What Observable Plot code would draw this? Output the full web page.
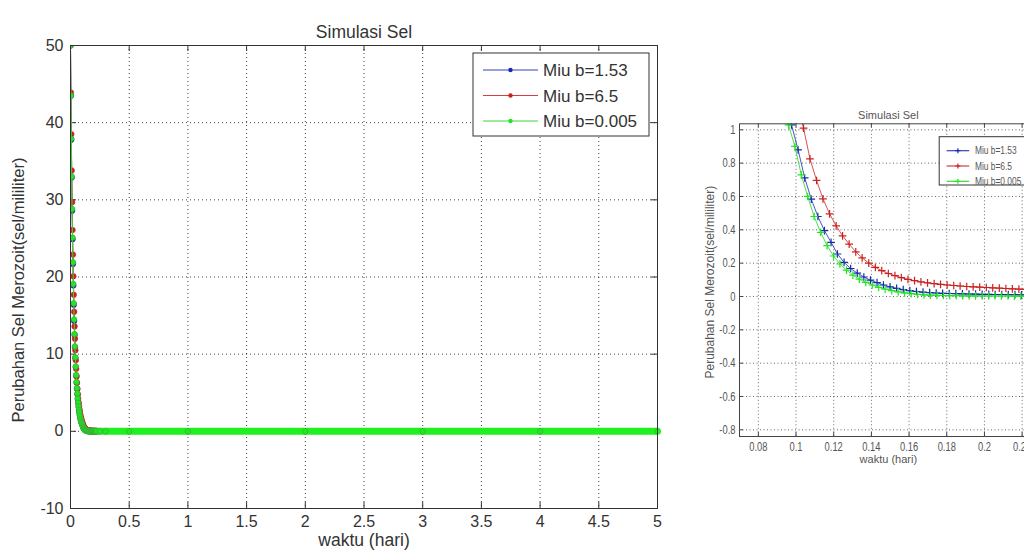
<!DOCTYPE html>
<html><head><meta charset="utf-8">
<script src="https://cdn.jsdelivr.net/npm/d3@7"></script>
<script src="https://cdn.jsdelivr.net/npm/@observablehq/plot@0.6"></script>
<style>
html,body{margin:0;padding:0;background:#fff;overflow:hidden;width:1024px;height:557px;}
#left{position:absolute;left:0;top:0;width:680px;height:557px;}
#right{position:absolute;left:680px;top:0;width:370px;height:557px;}
svg{max-width:none !important;}
</style></head><body>
<div id="left"></div><div id="right"></div>
<script>
// ---- data ----
const seriesNames = ["Miu b=1.53", "Miu b=6.5", "Miu b=0.005"];
const lineColors = ["#3344bb", "#d04040", "#3ad83a"];
const markColors = ["#1a2ab0", "#cc2020", "#22e622"];

// [time (hari), value]
const blue = [[0,50],[0.0035,43.5],[0.0070,37.8],[0.0105,32.9],[0.0139,28.6],[0.0174,24.9],[0.0209,21.7],[0.0244,18.9],[0.0279,16.4],[0.0314,14.3],
[0.0349,12.5],[0.0384,10.9],[0.0418,9.5],[0.0453,8.3],[0.0488,7.2],[0.0523,6.3],[0.0558,5.5],[0.0593,4.8],[0.0628,4.2],[0.0663,3.65],
[0.0697,3.18],[0.0732,2.77],[0.0767,2.41],[0.0802,2.10],[0.0837,1.82],[0.0872,1.57],[0.0907,1.35],[0.0941,1.17],[0.0976,1.03],[0.1011,0.880],
[0.1046,0.712],[0.1081,0.584],[0.1116,0.480],[0.1151,0.395],[0.1186,0.325],[0.1220,0.255],[0.1255,0.205],[0.1290,0.168],[0.1325,0.140],[0.1360,0.117],
[0.1395,0.098],[0.1430,0.083],[0.1464,0.069],[0.1499,0.058],[0.1534,0.049],[0.1569,0.041],[0.1604,0.035],[0.1639,0.030],[0.1674,0.026],[0.1709,0.023],
[0.1744,0.021],[0.1778,0.019],[0.1813,0.018],[0.1848,0.017],[0.1883,0.016],[0.1918,0.015],[0.1953,0.014],[0.1988,0.013],[0.2023,0.013],[0.2057,0.012],
[0.2092,0.012],[0.2127,0.011],[0.2162,0.011],[0.2197,0.010],[0.2232,0.010],
[0.25,0.006],[0.3,0.004],[0.5,0.002],[1,0.001],[2,0],[3,0],[4,0],[5,0]];

const red = [[0,50],[0.0035,43.9],[0.0069,38.5],[0.0104,33.8],[0.0139,29.7],[0.0173,26.1],[0.0208,22.9],[0.0243,20.1],[0.0277,17.7],[0.0312,15.5],
[0.0347,13.6],[0.0381,12.0],[0.0416,10.5],[0.0450,9.2],[0.0485,8.1],[0.0520,7.1],[0.0554,6.3],[0.0589,5.5],[0.0624,4.8],[0.0658,4.25],
[0.0693,3.73],[0.0728,3.27],[0.0762,2.87],[0.0797,2.52],[0.0832,2.21],[0.0866,1.94],[0.0901,1.71],[0.0936,1.50],[0.0970,1.32],[0.1005,1.16],
[0.1040,1.01],[0.1074,0.826],[0.1109,0.696],[0.1143,0.586],[0.1178,0.496],[0.1213,0.424],[0.1247,0.364],[0.1282,0.314],[0.1317,0.268],[0.1351,0.232],
[0.1386,0.200],[0.1421,0.175],[0.1455,0.155],[0.1490,0.138],[0.1525,0.125],[0.1559,0.113],[0.1594,0.103],[0.1629,0.095],[0.1663,0.088],[0.1698,0.082],
[0.1733,0.077],[0.1767,0.073],[0.1802,0.069],[0.1837,0.066],[0.1871,0.063],[0.1906,0.060],[0.1940,0.058],[0.1975,0.056],[0.2010,0.054],[0.2044,0.052],
[0.2079,0.050],[0.2114,0.048],[0.2148,0.046],[0.2183,0.044],[0.2218,0.043],[0.2252,0.042],
[0.25,0.036],[0.3,0.027],[0.5,0.012],[1,0.004],[2,0.001],[3,0],[4,0],[5,0]];

const green = [[0,50],[0.0034,43.5],[0.0069,37.9],[0.0103,33.0],[0.0137,28.8],[0.0171,25.1],[0.0206,21.9],[0.0240,19.1],[0.0274,16.6],[0.0308,14.5],
[0.0343,12.6],[0.0377,11.0],[0.0411,9.6],[0.0446,8.4],[0.0480,7.3],[0.0514,6.4],[0.0548,5.6],[0.0583,4.9],[0.0617,4.25],[0.0651,3.7],
[0.0685,3.22],[0.0720,2.80],[0.0754,2.44],[0.0788,2.12],[0.0822,1.84],[0.0857,1.58],[0.0891,1.36],[0.0925,1.17],[0.0960,1.03],[0.0994,0.900],
[0.1028,0.730],[0.1062,0.600],[0.1096,0.480],[0.1131,0.385],[0.1165,0.305],[0.1199,0.243],[0.1233,0.195],[0.1268,0.158],[0.1302,0.128],[0.1336,0.104],
[0.1370,0.085],[0.1405,0.069],[0.1439,0.055],[0.1473,0.044],[0.1508,0.035],[0.1542,0.028],[0.1576,0.022],[0.1611,0.017],[0.1645,0.013],[0.1679,0.010],
[0.1713,0.008],[0.1748,0.007],[0.1782,0.006],[0.1816,0.005],[0.1850,0.005],[0.1885,0.004],[0.1919,0.004],[0.1953,0.004],[0.1988,0.003],[0.2022,0.003],
[0.2056,0.003],[0.2090,0.003],[0.2125,0.003],[0.2159,0.002],[0.2193,0.002],[0.2227,0.002],
[0.25,0.002],[0.3,0.001],[0.5,0.001],[1,0],[2,0],[3,0],[4,0],[5,0]];

const leftXTicks = [0,0.5,1,1.5,2,2.5,3,3.5,4,4.5,5];
const leftYTicks = [-10,0,10,20,30,40,50];
const rightXTicks = [0.08,0.1,0.12,0.14,0.16,0.18,0.2,0.22];
const rightYTicks = [-0.8,-0.6,-0.4,-0.2,0,0.2,0.4,0.6,0.8,1];
const titleText = "Simulasi Sel";
const xLabelText = "waktu (hari)";
const yLabelText = "Perubahan Sel Merozoit(sel/mililiter)";

const series = [blue, red, green].map((s, i) => s.map(([t, v]) => ({t, v, s: i})));

function chart(cfg) {
  const pw = cfg.width - cfg.ml - cfg.mr, ph = cfg.height - cfg.mt - cfg.mb;
  const grid = {stroke: "#000", strokeOpacity: cfg.gridOpacity, strokeDasharray: cfg.dash};
  const marks = [
    Plot.gridX(cfg.xTicks, grid),
    Plot.gridY(cfg.yTicks, grid),
    Plot.ruleX(cfg.xTicks, {x: d => d, insetTop: ph - cfg.tick, stroke: cfg.axisColor}),
    Plot.ruleX(cfg.xTicks, {x: d => d, insetBottom: ph - cfg.tick, stroke: cfg.axisColor}),
    Plot.ruleY(cfg.yTicks, {y: d => d, insetRight: pw - cfg.tick, stroke: cfg.axisColor}),
    Plot.ruleY(cfg.yTicks, {y: d => d, insetLeft: pw - cfg.tick, stroke: cfg.axisColor}),
    Plot.axisX({ticks: cfg.xTicks, tickSize: 0, tickPadding: cfg.xPad, tickFormat: d => String(d), fontSize: cfg.tickFont, fill: cfg.textColor, label: null}),
    Plot.axisY({ticks: cfg.yTicks, tickSize: 0, tickPadding: cfg.yPad, tickFormat: d => String(d), fontSize: cfg.tickFont, fill: cfg.textColor, label: null})
  ];
  series.forEach((d, i) => {
    marks.push(Plot.line(d, {x: "t", y: "v", stroke: lineColors[i], strokeWidth: cfg.lineW, clip: true}));
    if (cfg.band && i === 2) {
      marks.push(Plot.line(d.filter(p => p.t >= 0.115), {x: "t", y: "v", stroke: "#1ff01f", strokeWidth: cfg.band, strokeLinecap: "round", clip: false}));
    }
    if (cfg.symbol === "circle") {
      marks.push(Plot.dot(d, {x: "t", y: "v", r: cfg.r, fill: markColors[i], stroke: i === 2 ? "#3aa83a" : markColors[i], strokeWidth: 0.6, clip: true}));
    } else {
      marks.push(Plot.dot(d, {x: "t", y: "v", r: cfg.r, symbol: cfg.symbol, stroke: markColors[i], strokeWidth: 1.2, clip: true}));
    }
  });
  marks.push(
    Plot.frame({stroke: cfg.axisColor, strokeWidth: 1}),
    Plot.text([titleText], {text: d => d, frameAnchor: "top", dy: cfg.titleDy, fontSize: cfg.titleFont, fill: cfg.textColor, ariaLabel: "title"}),
    Plot.text([xLabelText], {text: d => d, frameAnchor: "bottom", dy: cfg.xLabDy, fontSize: cfg.labFont, fill: cfg.textColor, ariaLabel: "xlabel"}),
    Plot.text([yLabelText], {text: d => d, frameAnchor: "left", textAnchor: "middle", dx: cfg.yLabDx, dy: cfg.yLabDy, rotate: -90, fontSize: cfg.yLabFont, fill: cfg.textColor, ariaLabel: "ylabel"})
  );
  const svg = Plot.plot({
    width: cfg.width, height: cfg.height,
    marginLeft: cfg.ml, marginRight: cfg.mr, marginTop: cfg.mt, marginBottom: cfg.mb,
    x: {domain: cfg.xDomain}, y: {domain: cfg.yDomain},
    style: {fontFamily: "'Liberation Sans', Arial, sans-serif", background: "transparent", color: cfg.textColor, overflow: "visible", maxWidth: "none"},
    marks
  });
  // legend (MATLAB-style box in the north-east corner)
  const g = d3.select(svg).append("g").attr("text-anchor", "start").attr("aria-label", "legend");
  const L = cfg.legend;
  const bx = cfg.width - cfg.mr - L.inset - L.w, by = cfg.mt + L.insetTop;
  g.append("rect").attr("x", bx).attr("y", by).attr("width", L.w).attr("height", L.h)
    .attr("fill", "#fff").attr("stroke", "#333").attr("stroke-width", 1);
  seriesNames.forEach((name, i) => {
    const yy = by + L.first + i * L.step;
    g.append("line").attr("x1", bx + L.l1).attr("x2", bx + L.l2).attr("y1", yy).attr("y2", yy)
      .attr("stroke", lineColors[i]).attr("stroke-width", 1.2);
    const mx = bx + (L.l1 + L.l2) / 2;
    if (cfg.symbol === "circle") {
      g.append("circle").attr("cx", mx).attr("cy", yy).attr("r", 2.2).attr("fill", markColors[i]);
    } else {
      g.append("path").attr("d", `M${mx-2.5},${yy}h5M${mx},${yy-2.5}v5`).attr("stroke", markColors[i]).attr("stroke-width", 1.2);
    }
    g.append("text").attr("x", bx + L.tx).attr("y", yy).attr("dy", "0.36em").attr("text-anchor", "start")
      .attr("font-size", L.font).attr("fill", cfg.textColor).text(name);
  });
  return svg;
}

// horizontally condense texts (the reference image is squeezed sideways)
function squeeze(svg, label, factor) {
  d3.select(svg).selectAll(`g[aria-label="${label}"] text`).each(function() {
    const n = this.getComputedTextLength();
    this.setAttribute("textLength", n * factor);
    this.setAttribute("lengthAdjust", "spacingAndGlyphs");
  });
}
function setLength(svg, label, len) {
  d3.select(svg).selectAll(`g[aria-label="${label}"] text`)
    .attr("textLength", len).attr("lengthAdjust", "spacingAndGlyphs");
}

const leftSvg = chart({
  width: 680, height: 557, ml: 70, mr: 23, mt: 45, mb: 49,
  xDomain: [0, 5], yDomain: [-10, 50], xTicks: leftXTicks, yTicks: leftYTicks,
  tickFont: 16, titleFont: 17.5, labFont: 17.5, yLabFont: 16.5, textColor: "#333", axisColor: "#333",
  xPad: 7, yPad: 7, tick: 6, titleDy: -20, xLabDy: 37, yLabDx: -52, yLabDy: 13,
  gridOpacity: 0.75, dash: "1,3", lineW: 1, r: 2.8, symbol: "circle", band: 7,
  legend: {w: 176, h: 83, inset: 8, insetTop: 8, first: 17, step: 25.5, l1: 10, l2: 65, tx: 70, font: 17}
});
document.getElementById("left").appendChild(leftSvg);
setLength(leftSvg, "ylabel", 284);

const rightSvg = chart({
  width: 370, height: 557, ml: 59, mr: 13.3, mt: 123.3, mb: 121,
  xDomain: [0.07, 0.228], yDomain: [-0.84, 1.036], xTicks: rightXTicks, yTicks: rightYTicks,
  tickFont: 13, titleFont: 11, labFont: 11, yLabFont: 12, textColor: "#555", axisColor: "#444",
  xPad: 5.5, yPad: 4, tick: 4, titleDy: -13, xLabDy: 26.5, yLabDx: -29, yLabDy: 2,
  gridOpacity: 0.6, dash: "1,2.5", lineW: 0.9, r: 2.6, symbol: "plus", band: 0,
  legend: {w: 93, h: 48.3, inset: 4.5, insetTop: 13.4, first: 14, step: 15.3, l1: 7.4, l2: 30, tx: 35.7, font: 10.5}
});
document.getElementById("right").appendChild(rightSvg);
squeeze(rightSvg, "x-axis tick label", 0.72);
squeeze(rightSvg, "y-axis tick label", 0.72);
squeeze(rightSvg, "title", 0.85);
squeeze(rightSvg, "xlabel", 0.85);
squeeze(rightSvg, "legend", 0.80);
setLength(rightSvg, "ylabel", 190);
</script>
</body></html>
